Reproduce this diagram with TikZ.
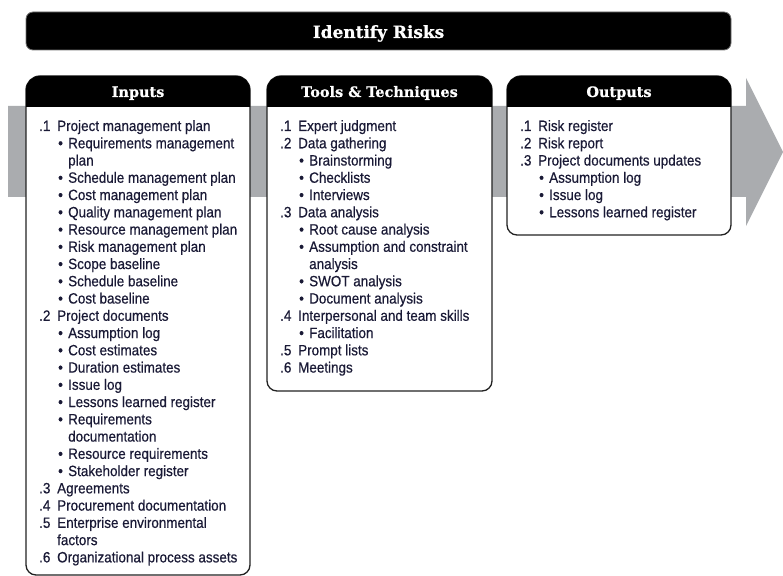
\documentclass[tikz,border=0pt]{standalone}
\usepackage{fontspec}
\newfontfamily\bodyfont[FakeStretch=0.9,FakeBold=0.5]{Liberation Sans}
\newfontfamily\headfont[FakeBold=0.6]{DejaVu Serif}
\definecolor{txt}{HTML}{1A1A36}
\definecolor{arrowgray}{HTML}{AAACAF}
\definecolor{boxline}{HTML}{222222}
\newcommand\numitem[2]{\hbox{\makebox[18bp][l]{#1}#2}}
\newcommand\bulitem[1]{\hbox{\hspace*{19bp}\makebox[10bp][l]{\textbullet}#1}}
\newcommand\contline[1]{\hbox{\hspace*{29bp}#1}}
\tikzset{
  boxbody/.style={fill=white, draw=boxline, line width=1.3bp},
  boxhead/.style={fill=black},
  headtext/.style={text=white, font=\headfont\bfseries\fontsize{14.5}{16}\selectfont, inner sep=0pt, anchor=base},
  listtext/.style={text=txt, inner sep=0pt, anchor=base west}
}
\newcommand\listbox[1]{\parbox[t]{220bp}{\bodyfont\fontsize{15}{17.32}\selectfont #1}}
\begin{document}
\begin{tikzpicture}[x=1bp,y=-1bp]
\useasboundingbox (0,0) rectangle (783,576);
\clip (0,0) rectangle (783,576);
% gray process arrow
\fill[arrowgray] (8,106) -- (746,106) -- (746,78) -- (783,152) -- (746,226) -- (746,197) -- (8,197) -- cycle;
% title bar
\draw[fill=black, draw=black!55, line width=0.8bp, rounded corners=7] (26,12) rectangle (731,50);
\node[text=white, font=\headfont\bfseries\fontsize{17}{19}\selectfont, inner sep=0pt, anchor=base] (title) at (378.5,38) {Identify Risks};
% Inputs box
\path[boxbody] (26,90) arc[start angle=180,end angle=270,radius=14] -- (236,76) arc[start angle=270,end angle=360,radius=14] -- (250,565) arc[start angle=0,end angle=90,radius=10] -- (36,575) arc[start angle=90,end angle=180,radius=10] -- cycle;
\fill[boxhead] (26,107) -- (26,90) arc[start angle=180,end angle=270,radius=14] -- (236,76) arc[start angle=270,end angle=360,radius=14] -- (250,107) -- cycle;
% Tools box
\path[boxbody] (267,90) arc[start angle=180,end angle=270,radius=14] -- (478,76) arc[start angle=270,end angle=360,radius=14] -- (492,381) arc[start angle=0,end angle=90,radius=10] -- (277,391) arc[start angle=90,end angle=180,radius=10] -- cycle;
\fill[boxhead] (267,107) -- (267,90) arc[start angle=180,end angle=270,radius=14] -- (478,76) arc[start angle=270,end angle=360,radius=14] -- (492,107) -- cycle;
% Outputs box
\path[boxbody] (507,90) arc[start angle=180,end angle=270,radius=14] -- (717,76) arc[start angle=270,end angle=360,radius=14] -- (731,225) arc[start angle=0,end angle=90,radius=10] -- (517,235) arc[start angle=90,end angle=180,radius=10] -- cycle;
\fill[boxhead] (507,107) -- (507,90) arc[start angle=180,end angle=270,radius=14] -- (717,76) arc[start angle=270,end angle=360,radius=14] -- (731,107) -- cycle;
% headers
\node[headtext] (hin) at (138,97) {Inputs};
\node[headtext] (htt) at (379.5,97) {Tools \& Techniques};
\node[headtext] (hout) at (619,97) {Outputs};
% lists
\node[listtext] (cin) at (39,131) {\listbox{%
\numitem{.1}{Project management plan}
\bulitem{Requirements management}
\contline{plan}
\bulitem{Schedule management plan}
\bulitem{Cost management plan}
\bulitem{Quality management plan}
\bulitem{Resource management plan}
\bulitem{Risk management plan}
\bulitem{Scope baseline}
\bulitem{Schedule baseline}
\bulitem{Cost baseline}
\numitem{.2}{Project documents}
\bulitem{Assumption log}
\bulitem{Cost estimates}
\bulitem{Duration estimates}
\bulitem{Issue log}
\bulitem{Lessons learned register}
\bulitem{Requirements}
\contline{documentation}
\bulitem{Resource requirements}
\bulitem{Stakeholder register}
\numitem{.3}{Agreements}
\numitem{.4}{Procurement documentation}
\numitem{.5}{Enterprise environmental}
\hbox{\hspace*{18bp}factors}
\numitem{.6}{Organizational process assets}}};
\node[listtext] (ctt) at (280,131) {\listbox{%
\numitem{.1}{Expert judgment}
\numitem{.2}{Data gathering}
\bulitem{Brainstorming}
\bulitem{Checklists}
\bulitem{Interviews}
\numitem{.3}{Data analysis}
\bulitem{Root cause analysis}
\bulitem{Assumption and constraint}
\contline{analysis}
\bulitem{SWOT analysis}
\bulitem{Document analysis}
\numitem{.4}{Interpersonal and team skills}
\bulitem{Facilitation}
\numitem{.5}{Prompt lists}
\numitem{.6}{Meetings}}};
\node[listtext] (cout) at (520,131) {\listbox{%
\numitem{.1}{Risk register}
\numitem{.2}{Risk report}
\numitem{.3}{Project documents updates}
\bulitem{Assumption log}
\bulitem{Issue log}
\bulitem{Lessons learned register}}};
\end{tikzpicture}
\end{document}
